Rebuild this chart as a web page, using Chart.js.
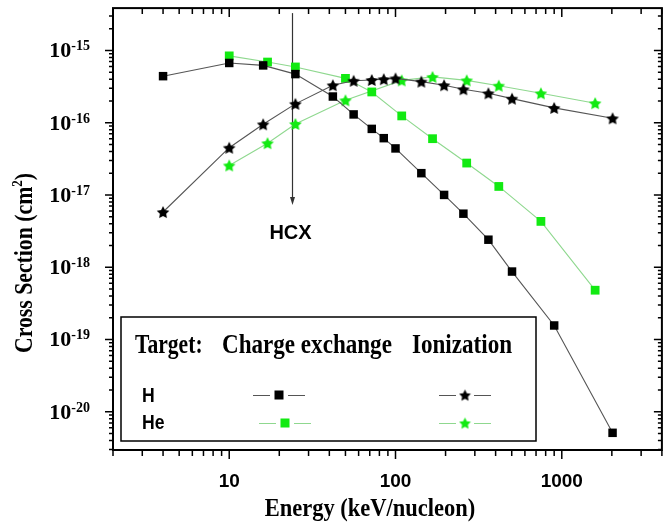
<!DOCTYPE html>
<html>
<head>
<meta charset="utf-8">
<script src="https://cdn.jsdelivr.net/npm/chart.js@4.4.0/dist/chart.umd.min.js"></script>
<style>
  html, body { margin: 0; padding: 0; background: #fff; }
  canvas { display: block; }
</style>
</head>
<body>
<canvas id="chart" width="670" height="523"></canvas>
<script>
// Energies (keV/nucleon)
var hEnergy = [4, 10, 16, 25, 42, 56, 72, 85, 100, 143, 196, 256, 362, 502, 900, 2020];
var heEnergy = [10, 17, 25, 50, 72, 109, 167, 268, 418, 749, 1587];
var heIonEnergy = [10, 17, 25, 50, 109, 167, 268, 418, 749, 1587];

// Cross sections (cm^2)
var hCharge = [4.4e-16, 6.7e-16, 6.2e-16, 4.7e-16, 2.3e-16, 1.3e-16, 8.2e-17, 6.1e-17, 4.4e-17, 2.0e-17, 1.0e-17, 5.5e-18, 2.4e-18, 8.7e-19, 1.56e-19, 5.1e-21];
var hIon = [5.8e-18, 4.5e-17, 9.5e-17, 1.82e-16, 3.3e-16, 3.8e-16, 3.9e-16, 4.0e-16, 4.1e-16, 3.7e-16, 3.3e-16, 2.9e-16, 2.55e-16, 2.15e-16, 1.6e-16, 1.15e-16];
var heCharge = [8.4e-16, 6.9e-16, 5.9e-16, 4.1e-16, 2.66e-16, 1.24e-16, 6.0e-17, 2.76e-17, 1.31e-17, 4.3e-18, 4.8e-19];
var heIon = [2.56e-17, 5.2e-17, 9.6e-17, 2.04e-16, 3.85e-16, 4.3e-16, 3.85e-16, 3.25e-16, 2.55e-16, 1.86e-16];

// Axis labels
var xTickValues = [10, 100, 1000];
var xTickLabels = ['10', '100', '1000'];
var yTickExponents = [-15, -16, -17, -18, -19, -20];

var BLACK_LINE = '#555';
var GREEN = '#12ea12';
var GREEN_LINE = '#8fd88f';
var SERIF = '"Liberation Serif", "Times New Roman", serif';
var SANS = '"Liberation Sans", Arial, sans-serif';

function toPoints(xs, ys) {
    return xs.map(function (x, i) { return {x: x, y: ys[i]}; });
}

// filled five point star used as point style
function makeStar(color, size) {
    var c = document.createElement('canvas');
    c.width = size;
    c.height = size;
    var g = c.getContext('2d');
    var R = size / 2 - 0.4, r = R * 0.5, cx = size / 2, cy = size / 2 + 0.7;
    g.beginPath();
    for (var i = 0; i < 10; i++) {
        var a = -Math.PI / 2 + i * Math.PI / 5;
        var rad = i % 2 ? r : R;
        g.lineTo(cx + rad * Math.cos(a), cy + rad * Math.sin(a));
    }
    g.closePath();
    g.fillStyle = color;
    g.fill();
    return c;
}

var blackStar = makeStar('#000', 14);
var greenStar = makeStar(GREEN, 14);
var legendBlackStar = makeStar('#000', 13);
var legendGreenStar = makeStar(GREEN, 13);

// draw runs of text (with super scripts), horizontally squeezed
function drawRuns(ctx, runs, x, y, align, sx, rot) {
    ctx.save();
    ctx.translate(x, y);
    if (rot) ctx.rotate(rot);
    ctx.scale(sx, 1);
    var total = 0;
    runs.forEach(function (r) { ctx.font = r.f; total += ctx.measureText(r.t).width; });
    var pos = align === 'center' ? -total / 2 : (align === 'right' ? -total : 0);
    ctx.textBaseline = 'alphabetic';
    ctx.textAlign = 'left';
    ctx.fillStyle = '#000';
    runs.forEach(function (r) {
        ctx.font = r.f;
        ctx.fillText(r.t, pos, r.dy || 0);
        pos += ctx.measureText(r.t).width;
    });
    ctx.restore();
}

var frame = {
    id: 'frame',
    beforeDatasetsDraw: function (chart) {
        var ctx = chart.ctx, xs = chart.scales.x, a = chart.chartArea;
        // HCX arrow
        var ax = Math.round(xs.getPixelForValue(24)) + 0.5;
        ctx.save();
        ctx.strokeStyle = '#333';
        ctx.fillStyle = '#333';
        ctx.lineWidth = 1.2;
        ctx.beginPath();
        ctx.moveTo(ax, a.top + 5);
        ctx.lineTo(ax, a.top + 192);
        ctx.stroke();
        ctx.beginPath();
        ctx.moveTo(ax - 2.5, a.top + 189);
        ctx.lineTo(ax + 2.5, a.top + 189);
        ctx.lineTo(ax, a.top + 197);
        ctx.closePath();
        ctx.fill();
        ctx.restore();
        drawRuns(ctx, [{t: 'HCX', f: 'bold 20px ' + SANS}], ax - 2, a.top + 231, 'center', 1, 0);
    },
    afterDraw: function (chart) {
        var ctx = chart.ctx, xs = chart.scales.x, ys = chart.scales.y, a = chart.chartArea;
        ctx.save();
        ctx.strokeStyle = '#000';

        // ticks on all four sides
        ctx.lineWidth = 1.5;
        ctx.beginPath();
        for (var e = 0; e <= 3; e++) {
            for (var m = 1; m <= 9; m++) {
                var v = m * Math.pow(10, e);
                if (v < xs.min || v > xs.max) continue;
                var px = xs.getPixelForValue(v);
                var len = m === 1 ? 9 : 6;
                ctx.moveTo(px, a.bottom);
                ctx.lineTo(px, a.bottom + len);
                ctx.moveTo(px, a.top);
                ctx.lineTo(px, a.top + len);
            }
        }
        for (var ye = -21; ye <= -15; ye++) {
            for (var k = 1; k <= 9; k++) {
                var yv = k * Math.pow(10, ye);
                if (yv < ys.min || yv > ys.max) continue;
                var py = ys.getPixelForValue(yv);
                var ylen = k === 1 ? 8 : 4;
                ctx.moveTo(a.left, py);
                ctx.lineTo(a.left - ylen, py);
                ctx.moveTo(a.right, py);
                ctx.lineTo(a.right - ylen, py);
            }
        }
        ctx.stroke();

        // frame
        ctx.lineWidth = 2;
        ctx.strokeRect(a.left, a.top, a.right - a.left, a.bottom - a.top);

        // x tick labels
        ctx.fillStyle = '#000';
        ctx.font = 'bold 19px ' + SANS;
        ctx.textAlign = 'center';
        ctx.textBaseline = 'alphabetic';
        xTickValues.forEach(function (v, i) {
            ctx.fillText(xTickLabels[i], xs.getPixelForValue(v), a.bottom + 37);
        });

        // y tick labels
        yTickExponents.forEach(function (p) {
            var py = ys.getPixelForValue(Math.pow(10, p));
            drawRuns(ctx, [
                {t: '10', f: 'bold 22px ' + SERIF},
                {t: String(p), f: 'bold 14px ' + SERIF, dy: -7}
            ], 90, py + 7, 'right', 1, 0);
        });

        // axis titles
        drawRuns(ctx, [{t: 'Energy (keV/nucleon)', f: 'bold 25px ' + SERIF}], 370, 516, 'center', 0.9, 0);
        drawRuns(ctx, [
            {t: 'Cross Section (cm', f: 'bold 25px ' + SERIF},
            {t: '2', f: 'bold 15px ' + SERIF, dy: -10},
            {t: ')', f: 'bold 25px ' + SERIF}
        ], 32, 263, 'center', 0.87, -Math.PI / 2);

        // legend box
        ctx.fillStyle = '#fff';
        ctx.fillRect(121, 317, 415, 124);
        ctx.lineWidth = 1.5;
        ctx.strokeStyle = '#000';
        ctx.strokeRect(121, 317, 415, 124);

        var lf = 'bold 27px ' + SERIF;
        drawRuns(ctx, [{t: 'Target:', f: lf}], 135, 353, 'left', 0.8, 0);
        drawRuns(ctx, [{t: 'Charge exchange', f: lf}], 222, 353, 'left', 0.855, 0);
        drawRuns(ctx, [{t: 'Ionization', f: lf}], 412, 353, 'left', 0.855, 0);
        drawRuns(ctx, [{t: 'H', f: 'bold 20px ' + SANS}], 142, 402, 'left', 0.88, 0);
        drawRuns(ctx, [{t: 'He', f: 'bold 20px ' + SANS}], 142, 429, 'left', 0.88, 0);

        function sample(cx, cy, lineColor, drawMark) {
            ctx.strokeStyle = lineColor;
            ctx.lineWidth = 1.2;
            ctx.beginPath();
            ctx.moveTo(cx - 26, cy + 0.5);
            ctx.lineTo(cx - 9, cy + 0.5);
            ctx.moveTo(cx + 9, cy + 0.5);
            ctx.lineTo(cx + 26, cy + 0.5);
            ctx.stroke();
            drawMark(cx, cy);
        }
        function square(color) {
            return function (cx, cy) {
                ctx.fillStyle = color;
                ctx.fillRect(cx - 4.5, cy - 4.5, 9, 9);
            };
        }
        function star(img) {
            return function (cx, cy) {
                ctx.drawImage(img, cx - img.width / 2, cy - img.height / 2);
            };
        }
        sample(279, 395, BLACK_LINE, square('#000'));
        sample(285, 423, GREEN_LINE, square(GREEN));
        sample(465, 395, BLACK_LINE, star(legendBlackStar));
        sample(465, 423, GREEN_LINE, star(legendGreenStar));

        ctx.restore();
    }
};

var ctx = document.getElementById('chart').getContext('2d');
var chart = new Chart(ctx, {
    type: 'line',
    data: {
        datasets: [{
            label: 'H charge exchange',
            data: toPoints(hEnergy, hCharge),
            borderColor: BLACK_LINE,
            borderWidth: 1.1,
            pointStyle: 'rect',
            pointRadius: 6,
            pointBackgroundColor: '#000',
            pointBorderWidth: 0
        }, {
            label: 'H ionization',
            data: toPoints(hEnergy, hIon),
            borderColor: BLACK_LINE,
            borderWidth: 1.1,
            pointStyle: blackStar,
            pointRadius: 7
        }, {
            label: 'He charge exchange',
            data: toPoints(heEnergy, heCharge),
            borderColor: GREEN_LINE,
            borderWidth: 1.1,
            pointStyle: 'rect',
            pointRadius: 6.2,
            pointBackgroundColor: GREEN,
            pointBorderWidth: 0
        }, {
            label: 'He ionization',
            data: toPoints(heIonEnergy, heIon),
            borderColor: GREEN_LINE,
            borderWidth: 1.1,
            pointStyle: greenStar,
            pointRadius: 7
        }]
    },
    options: {
        responsive: false,
        animation: false,
        devicePixelRatio: 1,
        layout: {
            padding: {left: 113, right: 8, top: 7, bottom: 73}
        },
        elements: {
            line: {tension: 0, fill: false}
        },
        plugins: {
            legend: {display: false},
            tooltip: {enabled: false}
        },
        scales: {
            x: {type: 'logarithmic', min: 2, max: 4000, display: false},
            y: {type: 'logarithmic', min: 2.95e-21, max: 3.85e-15, display: false}
        }
    },
    plugins: [frame]
});
</script>
</body>
</html>
